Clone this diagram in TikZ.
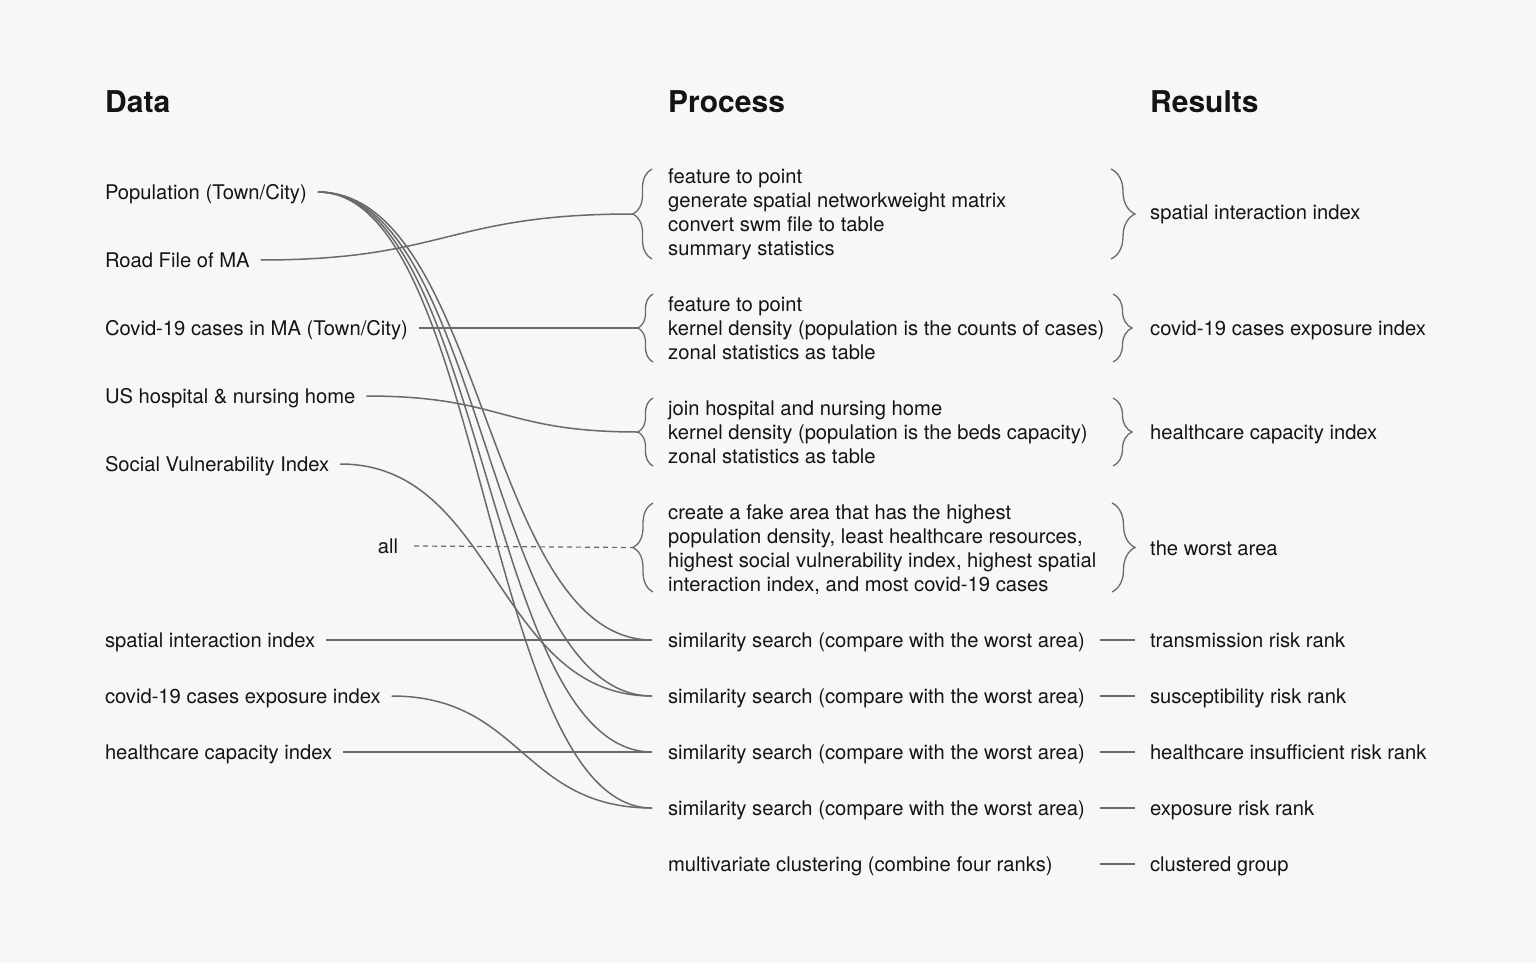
\documentclass[tikz,border=0pt]{standalone}
\usepackage{fontspec}
\setmainfont{TeX Gyre Heros}
\usetikzlibrary{decorations.pathreplacing,calc}
\definecolor{bgc}{HTML}{F7F7F7}
\definecolor{lnc}{HTML}{6A6A6A}
\definecolor{txc}{HTML}{141414}
\begin{document}
\begin{tikzpicture}[x=1pt,y=-1pt,
  txt/.style={font=\fontsize{20.2}{24}\selectfont, text=txc, inner sep=0pt, text height=14.5pt, text depth=0pt, anchor=west},
  lft/.style={txt, outer xsep=11pt},
  simn/.style={txt, outer xsep=16pt},
  resn/.style={txt, outer xsep=15pt},
  head/.style={font=\fontsize{30}{36}\selectfont\bfseries, text=txc, inner sep=0pt, anchor=base west},
  conn/.style={draw=lnc, line width=1.5pt},
  brc/.style={draw=lnc, line width=1.3pt, decorate, decoration={brace, amplitude=#1}},
  link/.style={to path={let \p1=(\tikztostart), \p2=(\tikztotarget) in .. controls ({(\x1+\x2)/2},\y1) and ({(\x1+\x2)/2},\y2) .. (\tikztotarget)}}
]
\fill[bgc] (0,0) rectangle (1536,963);
\useasboundingbox (0,0) rectangle (1536,963);

% headings
\node[head] (hd) at (105,113) {Data};
\node[head] (hp) at (668,113) {Process};
\node[head] (hr) at (1150,113) {Results};

% data column
\node[lft] (pop) at (94,192) {Population (Town/City)};
\node[lft] (road) at (94,260) {Road File of MA};
\node[lft] (cov) at (94,328) {Covid-19 cases in MA (Town/City)};
\node[lft] (hosp) at (94,396) {US hospital \& nursing home};
\node[lft] (svi) at (94,464) {Social Vulnerability Index};
\node[txt, outer xsep=16pt, anchor=east] (all) at (414,546) {all};
\node[lft] (sii) at (94,640) {spatial interaction index};
\node[lft] (cei) at (94,696) {covid-19 cases exposure index};
\node[lft] (hci) at (94,752) {healthcare capacity index};

% process blocks
\node[txt] (p11) at (668,176) {feature to point};
\node[txt] (p12) at (668,200) {generate spatial networkweight matrix};
\node[txt] (p13) at (668,224) {convert swm file to table};
\node[txt] (p14) at (668,248) {summary statistics};

\node[txt] (p21) at (668,304) {feature to point};
\node[txt] (p22) at (668,328) {kernel density (population is the counts of cases)};
\node[txt] (p23) at (668,352) {zonal statistics as table};

\node[txt] (p31) at (668,408) {join hospital and nursing home};
\node[txt] (p32) at (668,432) {kernel density (population is the beds capacity)};
\node[txt] (p33) at (668,456) {zonal statistics as table};

\node[txt] (p41) at (668,512) {create a fake area that has the highest};
\node[txt] (p42) at (668,536) {population density, least healthcare resources,};
\node[txt] (p43) at (668,560) {highest social vulnerability index, highest spatial};
\node[txt] (p44) at (668,584) {interaction index, and most covid-19 cases};

\node[simn] (s1) at (652,640) {similarity search (compare with the worst area)};
\node[simn] (s2) at (652,696) {similarity search (compare with the worst area)};
\node[simn] (s3) at (652,752) {similarity search (compare with the worst area)};
\node[simn] (s4) at (652,808) {similarity search (compare with the worst area)};
\node[simn] (s5) at (652,864) {multivariate clustering (combine four ranks)};

% left braces
\draw[brc=19pt] (652,259) -- (652,169);
\draw[brc=15pt] (653,362) -- (653,294);
\draw[brc=15pt] (653,466) -- (653,398);
\draw[brc=20pt] (653,592) -- (653,503);
\coordinate (b1) at (633,214);
\coordinate (b2) at (638,328);
\coordinate (b3) at (638,432);
\coordinate (b4) at (633,547.5);

% right braces
\draw[brc=24pt] (1111,169) -- (1111,259);
\draw[brc=19pt] (1113,294) -- (1113,362);
\draw[brc=19pt] (1113,398) -- (1113,466);
\draw[brc=23pt] (1112,503) -- (1112,592);

% results
\node[txt] (r1) at (1150,212) {spatial interaction index};
\node[txt] (r2) at (1150,328) {covid-19 cases exposure index};
\node[txt] (r3) at (1150,432) {healthcare capacity index};
\node[txt] (r4) at (1150,548) {the worst area};
\node[resn] (r5) at (1135,640) {transmission risk rank};
\node[resn] (r6) at (1135,696) {susceptibility risk rank};
\node[resn] (r7) at (1135,752) {healthcare insufficient risk rank};
\node[resn] (r8) at (1135,808) {exposure risk rank};
\node[resn] (r9) at (1135,864) {clustered group};

\coordinate (d5) at (1100,640);
\coordinate (d6) at (1100,696);
\coordinate (d7) at (1100,752);
\coordinate (d8) at (1100,808);
\coordinate (d9) at (1100,864);
\foreach \i in {5,...,9} { \draw[conn] (d\i) -- (r\i.west); }

% connectors
\draw[conn] (road.east) to[link] (b1);
\draw[conn] (cov.east) -- (b2);
\draw[conn] (hosp.east) to[link] (b3);
\draw[conn, dashed, dash pattern=on 5pt off 4pt, line width=1.2pt] (all.east) -- (b4);
\draw[conn] (pop.east) to[link] (s1.west);
\draw[conn] (pop.east) to[link] (s2.west);
\draw[conn] (pop.east) to[link] (s3.west);
\draw[conn] (pop.east) to[link] (s4.west);
\draw[conn] (svi.east) to[link] (s2.west);
\draw[conn] (sii.east) -- (s1.west);
\draw[conn] (cei.east) to[link] (s4.west);
\draw[conn] (hci.east) -- (s3.west);
\end{tikzpicture}
\end{document}
